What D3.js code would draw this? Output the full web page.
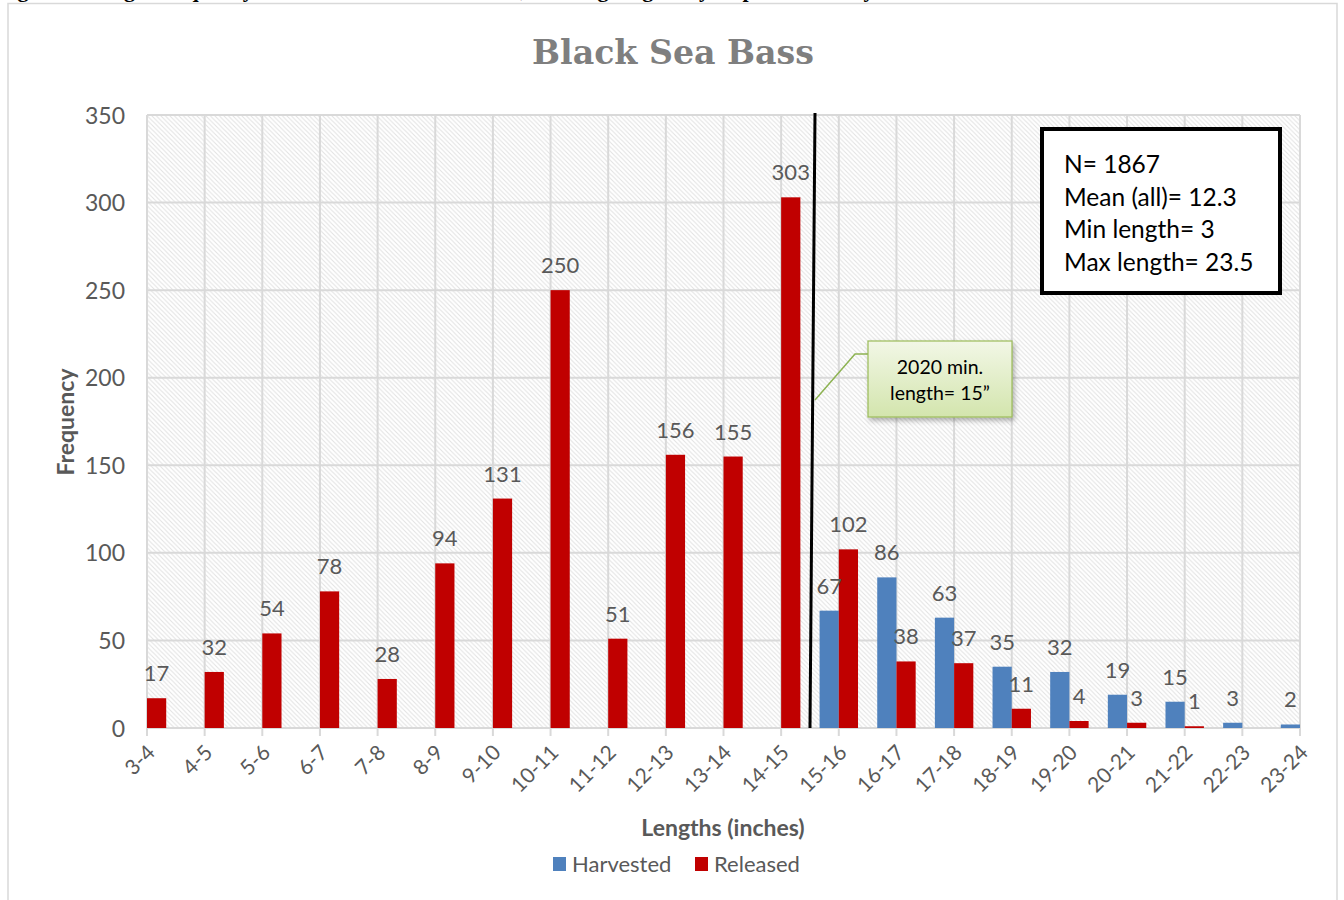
<!DOCTYPE html>
<html><head><meta charset="utf-8">
<script src="https://cdn.jsdelivr.net/npm/d3@7"></script>
<style>html,body{margin:0;padding:0;background:#fff;}svg{display:block;}</style>
</head><body>
<svg id="c" width="1344" height="900"></svg>
<script>
const categories = ["3-4","4-5","5-6","6-7","7-8","8-9","9-10","10-11","11-12","12-13","13-14","14-15","15-16","16-17","17-18","18-19","19-20","20-21","21-22","22-23","23-24"];
const harvested = [0,0,0,0,0,0,0,0,0,0,0,0,67,86,63,35,32,19,15,3,2];
const released  = [17,32,54,78,28,94,131,250,51,156,155,303,102,38,37,11,4,3,1,0,0];
const yTicks = [0,50,100,150,200,250,300,350];
const statsLines = ["N= 1867","Mean (all)= 12.3","Min length= 3","Max length= 23.5"];
const calloutLines = ["2020 min.","length= 15\u201d"];
const seriesNames = ["Harvested","Released"];
const seriesColors = ["#4f81bd","#c00000"];

const svg = d3.select("#c");
const FONT = "Lato, 'Open Sans', sans-serif";
const GRAY = "#595959";

const defs = svg.append("defs");
const pat = defs.append("pattern").attr("id","hatch").attr("patternUnits","userSpaceOnUse")
  .attr("width",4.5).attr("height",4.5);
pat.append("rect").attr("width",4.5).attr("height",4.5).attr("fill","#fff");
pat.append("path").attr("d","M-1,-1 L5.5,5.5 M-1,3.5 L1,5.5 M3.5,-1 L5.5,1").attr("stroke","#e2e2e2").attr("stroke-width",1);
const grad = defs.append("linearGradient").attr("id","gg").attr("x1",0).attr("y1",0).attr("x2",0).attr("y2",1);
grad.append("stop").attr("offset","0%").attr("stop-color","#f2f7e6");
grad.append("stop").attr("offset","100%").attr("stop-color","#d3e5ad");
const flt = defs.append("filter").attr("id","sh").attr("x","-20%").attr("y","-20%").attr("width","150%").attr("height","150%");
flt.append("feDropShadow").attr("dx",2).attr("dy",3).attr("stdDeviation",2.5).attr("flood-color","#000").attr("flood-opacity",0.3);

// clipped caption at top (cropped in the reference as well)
svg.append("text").attr("x",-2).attr("y",-3).attr("font-family","'Liberation Serif', serif")
  .attr("font-weight","bold").attr("font-size",22).attr("fill","#000")
  .text("Figure 8. Length frequency of Black Sea Bass measured, showing lengths by disposition and year");

// outer chart border
svg.append("rect").attr("x",8).attr("y",3.5).attr("width",1329).attr("height",910)
  .attr("fill","none").attr("stroke","#d9d9d9").attr("stroke-width",1.5);

const x0 = 147, x1 = 1300, yT = 115, yB = 728;
const x = d3.scalePoint().domain(categories).range([x0,x1]);
const y = d3.scaleLinear().domain([0,350]).range([yB,yT]);
const bw = x.step()/3;

// plot background hatch
svg.append("rect").attr("x",x0).attr("y",yT).attr("width",x1-x0).attr("height",yB-yT).attr("fill","url(#hatch)");

// gridlines
svg.append("g").selectAll("line.h").data(yTicks).join("line")
  .attr("x1",x0).attr("x2",x1).attr("y1",d=>y(d)).attr("y2",d=>y(d))
  .attr("stroke","#d9d9d9").attr("stroke-width",2);
svg.append("g").selectAll("line.v").data(categories).join("line")
  .attr("x1",d=>x(d)).attr("x2",d=>x(d)).attr("y1",yT).attr("y2",yB+8)
  .attr("stroke","#d9d9d9").attr("stroke-width",2);

// y axis labels
const yAxis = d3.axisLeft(y).tickValues(yTicks).tickSize(0).tickPadding(0);
const gy = svg.append("g").attr("transform",`translate(${x0-22},0)`).call(yAxis);
gy.select(".domain").remove();
gy.selectAll("text").attr("font-family",FONT).attr("font-size",23).attr("fill",GRAY).attr("dy","0.35em");

// x axis labels
const xAxis = d3.axisBottom(x).tickSize(0).tickPadding(0);
const gx = svg.append("g").attr("transform",`translate(0,${yB})`).call(xAxis);
gx.select(".domain").remove();
gx.selectAll("text").attr("font-family",FONT).attr("font-size",21).attr("fill",GRAY)
  .attr("text-anchor","end").attr("dy",null).attr("y",0)
  .attr("transform","translate(5,22) rotate(-45)").attr("dominant-baseline","middle");

// bars
const data = categories.map((c,i)=>({c, h:harvested[i], r:released[i]}));
svg.append("g").selectAll("rect").data(data).join("rect")
  .attr("x",d=>x(d.c)-bw).attr("width",bw).attr("y",d=>y(d.h)).attr("height",d=>yB-y(d.h))
  .attr("fill",seriesColors[0]);
svg.append("g").selectAll("rect").data(data).join("rect")
  .attr("x",d=>x(d.c)).attr("width",bw).attr("y",d=>y(d.r)).attr("height",d=>yB-y(d.r))
  .attr("fill",seriesColors[1]);

// data labels
svg.append("g").selectAll("text").data(data.filter(d=>d.h>0)).join("text")
  .attr("x",d=>x(d.c)-bw/2).attr("y",d=>y(d.h)-17).attr("text-anchor","middle")
  .attr("font-family",FONT).attr("font-size",22).attr("fill",GRAY).text(d=>d.h);
svg.append("g").selectAll("text").data(data.filter(d=>d.r>0)).join("text")
  .attr("x",d=>x(d.c)+bw/2).attr("y",d=>y(d.r)-17).attr("text-anchor","middle")
  .attr("font-family",FONT).attr("font-size",22).attr("fill",GRAY).text(d=>d.r);

// vertical min-length line
svg.append("line").attr("x1",815).attr("y1",113).attr("x2",810).attr("y2",yB)
  .attr("stroke","#000").attr("stroke-width",3);

// callout
svg.append("path").attr("d","M868,354 L855,354 L815,400").attr("fill","none")
  .attr("stroke","#8db352").attr("stroke-width",1.5);
svg.append("rect").attr("x",868).attr("y",341).attr("width",144).attr("height",76)
  .attr("fill","url(#gg)").attr("stroke","#9bbb59").attr("stroke-width",1.2).attr("filter","url(#sh)");
svg.append("g").selectAll("text").data(calloutLines).join("text")
  .attr("x",940).attr("y",(d,i)=>374+i*26).attr("text-anchor","middle")
  .attr("font-family",FONT).attr("font-size",19.5).attr("fill","#000").text(d=>d);

// stats box
svg.append("rect").attr("x",1042).attr("y",129).attr("width",238).attr("height",164)
  .attr("fill","#fff").attr("stroke","#000").attr("stroke-width",4);
svg.append("g").selectAll("text").data(statsLines).join("text")
  .attr("x",1064).attr("y",(d,i)=>173+i*32.7)
  .attr("font-family",FONT).attr("font-size",24.5).attr("fill","#000").text(d=>d);

// title
svg.append("text").attr("x",673).attr("y",64).attr("text-anchor","middle")
  .attr("font-family","'DejaVu Serif', serif").attr("font-weight","bold").attr("font-size",34)
  .attr("fill","#7f7f7f").attr("textLength",282).attr("lengthAdjust","spacingAndGlyphs").text("Black Sea Bass");

// axis titles
svg.append("text").attr("transform","translate(74,422) rotate(-90)").attr("text-anchor","middle")
  .attr("font-family",FONT).attr("font-weight","bold").attr("font-size",23).attr("fill",GRAY).text("Frequency");
svg.append("text").attr("x",723).attr("y",836).attr("text-anchor","middle")
  .attr("font-family",FONT).attr("font-weight","bold").attr("font-size",23).attr("fill",GRAY).text("Lengths (inches)");

// legend
const legX = [553,695];
const lg = svg.append("g").selectAll("g").data(seriesNames).join("g")
  .attr("transform",(d,i)=>`translate(${legX[i]},857)`);
lg.append("rect").attr("width",13).attr("height",14).attr("fill",(d,i)=>seriesColors[i]);
lg.append("text").attr("x",19).attr("y",15).attr("font-family",FONT).attr("font-size",22)
  .attr("fill",GRAY).text(d=>d);
</script>
</body></html>
